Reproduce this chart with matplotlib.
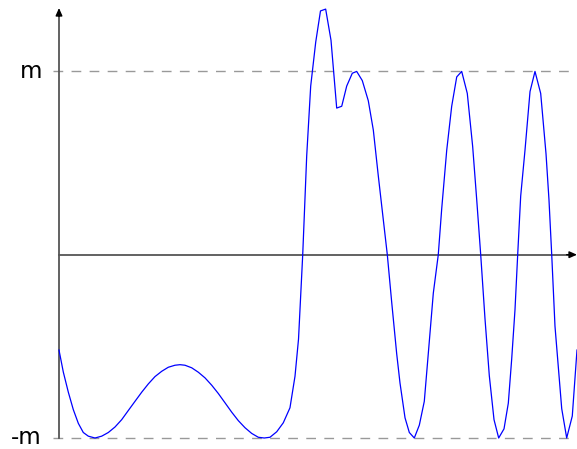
import matplotlib
matplotlib.use("Agg")
import matplotlib.pyplot as plt

# curve samples (t: 0..100 along the axis, y in units of m)
t = [0, 0.83, 1.80, 2.76, 3.73, 4.69, 5.66, 6.95, 8.24, 9.52, 10.81, 12.10,
     13.38, 14.67, 15.97, 17.24, 18.53, 19.83, 21.10, 22.39, 23.36, 24.32,
     25.62, 26.89, 28.19, 29.48, 30.75, 32.05, 33.34, 34.61, 35.91, 37.20,
     38.48, 39.63, 40.73, 42.03, 43.30, 44.59, 45.56, 46.24, 47.05, 47.82,
     48.59, 49.56, 50.48, 51.48, 52.51, 53.61, 54.58, 55.54, 56.62, 57.47,
     58.55, 59.71, 60.68, 61.64, 62.61, 63.38, 64.23, 65.19, 65.83, 66.80,
     67.63, 68.59, 69.56, 70.52, 71.29, 72.26, 73.22, 73.88, 74.85, 75.81,
     76.78, 77.74, 78.82, 79.86, 80.64, 81.41, 82.24, 83.07, 83.98, 84.88,
     85.91, 86.74, 87.39, 88.03, 88.55, 89.13, 89.96, 90.93, 91.89, 92.99,
     94.02, 94.59, 95.12, 95.75, 97.05, 98.01, 99.09, 100]
y = [-0.52, -0.64, -0.75, -0.845, -0.92, -0.97, -0.99, -1.0, -0.99, -0.97, -0.94, -0.90,
     -0.85, -0.80, -0.75, -0.705, -0.665, -0.636, -0.614, -0.603, -0.60, -0.603,
     -0.617, -0.641, -0.672, -0.712, -0.757, -0.808, -0.859, -0.905, -0.944, -0.975,
     -0.996, -1.0, -0.996, -0.966, -0.917, -0.835, -0.663, -0.46, 0.0, 0.54,
     0.92, 1.16, 1.33, 1.34, 1.17, 0.80, 0.81, 0.92, 0.99, 1.0,
     0.95, 0.84, 0.68, 0.43, 0.19, 0.0, -0.26, -0.54, -0.70, -0.89,
     -0.97, -1.0, -0.93, -0.80, -0.54, -0.21, 0.0, 0.25, 0.57, 0.81,
     0.97, 1.0, 0.88, 0.59, 0.30, 0.0, -0.35, -0.66, -0.90, -1.0,
     -0.95, -0.81, -0.57, -0.30, 0.0, 0.32, 0.57, 0.89, 1.0, 0.88,
     0.55, 0.30, 0.0, -0.39, -0.84, -1.0, -0.88, -0.52]

levels = [1, -1]
level_labels = ["m", "-m"]

fig = plt.figure(figsize=(5.77, 4.49), dpi=100)
ax = fig.add_axes([59 / 577, 11 / 449, 518 / 577, 430 / 449])
ax.set_xlim(0, 100)
ax.set_ylim(-1, 1.346)
ax.axis("off")

# dashed bounds and their labels
for lv, lab in zip(levels, level_labels):
    ax.plot([-1.2, 100], [lv, lv], color="#999999", lw=1.0,
            dashes=(7, 6), clip_on=False)
    ax.text(-3.3, lv, lab, ha="right", va="center", fontsize=16.5,
            clip_on=False)

# axes: grey lines, black arrow heads
ax.plot([0, 99], [0, 0], color="#555555", lw=1.3, clip_on=False)
ax.plot([0, 0], [-1, 1.32], color="#555555", lw=1.3, clip_on=False)
head = dict(arrowstyle="-|>,head_length=0.45,head_width=0.2",
            color="black", lw=1.0, shrinkA=0, shrinkB=0)
ax.annotate("", xy=(100, 0), xytext=(98, 0), arrowprops=head,
            annotation_clip=False)
ax.annotate("", xy=(0, 1.346), xytext=(0, 1.30), arrowprops=head,
            annotation_clip=False)

ax.plot(t, y, color="#0000ff", lw=0.9, clip_on=False)

fig.savefig("out.png", dpi=100)
